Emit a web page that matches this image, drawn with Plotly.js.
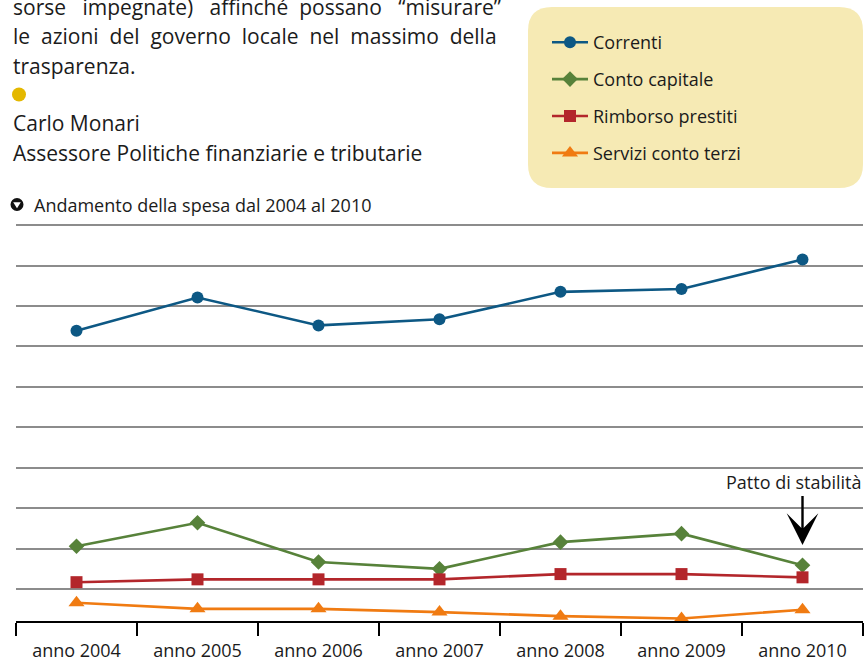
<!DOCTYPE html>
<html>
<head>
<meta charset="utf-8">
<script src="https://cdn.plot.ly/plotly-3.0.1.min.js"></script>
<style>html,body{margin:0;padding:0;background:#fff;}#chart{width:864px;height:662px;}</style>
</head>
<body>
<div id="chart"></div>
<script>
// ---- data ----
var years = ['anno 2004','anno 2005','anno 2006','anno 2007','anno 2008','anno 2009','anno 2010'];
var correnti = [71.8, 80.0, 73.1, 74.6, 81.4, 82.1, 89.4];
var contoCapitale = [18.5, 24.3, 14.6, 12.9, 19.5, 21.6, 13.8];
var rimborsoPrestiti = [9.6, 10.3, 10.3, 10.3, 11.6, 11.6, 10.8];
var serviziContoTerzi = [4.5, 3.0, 3.0, 2.2, 1.2, 0.6, 2.8];
var seriesNames = ['Correnti','Conto capitale','Rimborso prestiti','Servizi conto terzi'];
var chartTitle = 'Andamento della spesa dal 2004 al 2010';
var noteText = 'Patto di stabilità';

// ---- layout geometry ----
var W = 864, H = 662;
var mL = 16, mR = 1, mT = 215, mB = 41;
var pw = W - mL - mR, ph = H - mT - mB;
function px(x){ return (x - mL) / pw; }
function py(y){ return (H - mB - y) / ph; }
var yMax = 100.4;
function yv(pix){ return (H - mB - pix) / ph * yMax; }

var font = 'Open Sans, Noto Sans, sans-serif';
var txt = '#1b1b1b';
var NB = '\u00a0';

function mk(name, y, color, symbol, size, grp){
  return {
    type:'scatter', mode:'lines+markers', name:name, x:years, y:y,
    legendgroup:grp, cliponaxis:false,
    line:{color:color, width:2.6},
    marker:{color:color, symbol:symbol, size:size}
  };
}
var traces = [
  mk(seriesNames[0], correnti, '#0d5884', 'circle', 12, 'a'),
  mk(seriesNames[1], contoCapitale, '#57823a', 'diamond', 12, 'b'),
  mk(seriesNames[2], rimborsoPrestiti, '#b3262b', 'square', 12, 'c'),
  mk(seriesNames[3], serviziContoTerzi, '#f07b12', 'triangle-up', 14, 'd')
];

// rounded rectangle for legend background
function rrect(L, T, R, B, r){
  var rx = r / pw, ry = r / ph;
  var l = px(L), t = py(T), rr = px(R), b = py(B);
  return 'M' + (l+rx) + ',' + t + ' L' + (rr-rx) + ',' + t +
    ' Q' + rr + ',' + t + ' ' + rr + ',' + (t-ry) +
    ' L' + rr + ',' + (b+ry) +
    ' Q' + rr + ',' + b + ' ' + (rr-rx) + ',' + b +
    ' L' + (l+rx) + ',' + b +
    ' Q' + l + ',' + b + ' ' + l + ',' + (b+ry) +
    ' L' + l + ',' + (t-ry) +
    ' Q' + l + ',' + t + ' ' + (l+rx) + ',' + t + ' Z';
}

function ann(text, x, y, size, anchor){
  return {text:text, xref:'paper', yref:'paper', x:px(x), y:py(y), xanchor:anchor||'left', yanchor:'middle',
    showarrow:false, font:{family:font, size:size, color:txt}};
}
var j = ' ' + NB;
var annotations = [
  ann('sorse' + ' ' + NB + NB + 'impegnate)' + ' ' + NB + NB + 'affinché' + ' ' + NB + 'possano' + ' ' + NB + NB + '“misurare”', 11, 7, 21),
  ann('le' + j + 'azioni' + j + 'del' + j + 'governo' + j + 'locale' + j + 'nel' + j + 'massimo' + j + 'della', 11, 36.5, 21),
  ann('trasparenza.', 11, 66, 21),
  ann('Carlo Monari', 11, 123, 21),
  ann('Assessore Politiche finanziarie e tributarie', 11, 153, 21),
  ann(chartTitle, 32, 205, 18),
  {text:noteText, xref:'x', yref:'y', x:years[6], y:yv(482), xshift:-9.5, showarrow:false,
    xanchor:'center', yanchor:'middle', font:{family:font, size:18, color:txt}},
  {text:' ', xref:'x', yref:'y', x:years[6], y:yv(545), showarrow:true, ax:0, ay:-51,
    arrowhead:3, arrowsize:2.2, arrowwidth:2.4, arrowcolor:'#000', font:{size:1}}
];

var shapes = [
  {type:'path', xref:'paper', yref:'paper', path:rrect(528, 7, 863, 188, 24),
    fillcolor:'#f6eab4', line:{width:0}, layer:'below'},
  {type:'circle', xref:'paper', yref:'paper', xsizemode:'pixel', ysizemode:'pixel',
    xanchor:px(19), yanchor:py(94.5), x0:-7, x1:7, y0:-7, y1:7, fillcolor:'#e4b800', line:{width:0}},
  {type:'circle', xref:'paper', yref:'paper', xsizemode:'pixel', ysizemode:'pixel',
    xanchor:px(17), yanchor:py(204.5), x0:-6.5, x1:6.5, y0:-6.5, y1:6.5, fillcolor:'#111', line:{width:0}},
  {type:'path', xref:'paper', yref:'paper', xsizemode:'pixel', ysizemode:'pixel',
    xanchor:px(17), yanchor:py(204.5), path:'M-3.8,2.2 L3.8,2.2 L0,-3.8 Z', fillcolor:'#fff', line:{width:0}}
];

var layout = {
  width:W, height:H,
  margin:{l:mL, r:mR, t:mT, b:mB, pad:0},
  paper_bgcolor:'#fff', plot_bgcolor:'#fff',
  font:{family:font, size:18, color:txt},
  showlegend:true,
  legend:{x:px(547), y:py(24), xanchor:'left', yanchor:'top', bgcolor:'rgba(0,0,0,0)',
    font:{family:font, size:18, color:txt}, tracegroupgap:10.5, itemwidth:36},
  xaxis:{type:'category', range:[-0.5, 6.5], showgrid:false, zeroline:false,
    showline:true, linecolor:'#000', linewidth:2,
    ticks:'outside', tickson:'boundaries', ticklen:13, tickwidth:2, tickcolor:'#000',
    ticklabelstandoff:12,
    tickfont:{family:font, size:18, color:txt}, fixedrange:true},
  yaxis:{range:[0, yMax], showticklabels:false, ticks:'', zeroline:false, showline:false,
    showgrid:true, gridcolor:'#8c8c8c', gridwidth:2, tick0:7.91, dtick:10, fixedrange:true},
  annotations:annotations,
  shapes:shapes
};

Plotly.newPlot('chart', traces, layout, {displayModeBar:false, staticPlot:true});
</script>
</body>
</html>
